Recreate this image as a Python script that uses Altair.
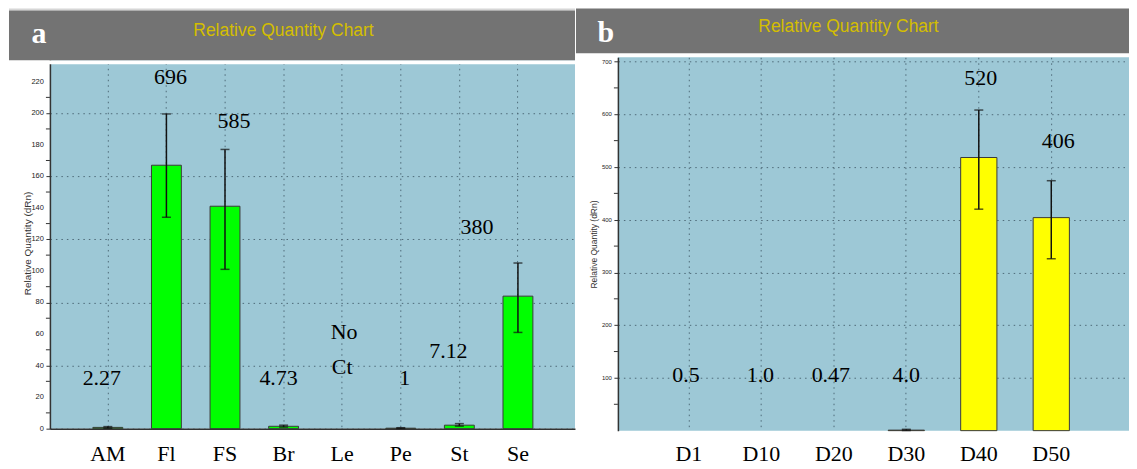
import altair as alt
import pandas as pd

# ---------------- data ----------------
cats_a = ["AM", "Fl", "FS", "Br", "Le", "Pe", "St", "Se"]
vals_a = [0.8, 167, 141, 1.5, None, 0.3, 2.2, 84]
lo_a = [0.3, 134, 101, 1.0, None, 0.1, 1.6, 61]
hi_a = [1.3, 199.5, 177, 2.2, None, 0.6, 3.2, 105]

lab_text_a = ["2.27", "696", "585", "4.73", "No", "Ct", "1", "7.12", "380"]
lab_cat_a = ["AM", "Fl", "FS", "Br", "Le", "Le", "Pe", "St", "Se"]
lab_y_a = [32, 223, 195, 32, 61, 39, 32, 49, 128]
lab_dx_a = [-6, 4, 9, -5, 2, 0, 4, -11, -41]

ymajor_a = [0, 20, 40, 60, 80, 100, 120, 140, 160, 180, 200, 220]
yminor_a = [10, 30, 50, 70, 90, 110, 130, 150, 170, 190, 210]

cats_b = ["D1", "D10", "D20", "D30", "D40", "D50"]
vals_b = [None, None, None, 1.0, 518, 404]
lo_b = [None, None, None, 0.3, 420, 326]
hi_b = [None, None, None, 2.5, 608, 474]

lab_text_b = ["0.5", "1.0", "0.47", "4.0", "520", "406"]
lab_cat_b = ["D1", "D10", "D20", "D30", "D40", "D50"]
lab_y_b = [106, 106, 106, 106, 668, 549]
lab_dx_b = [-3, -1, -3, 0, 2, 7]

ymajor_b = [100, 200, 300, 400, 500, 600, 700]
yminor_b = [50, 150, 250, 350, 450, 550, 650]

TITLE = "Relative Quantity Chart"
YTITLE = "Relative Quantity (dRn)"

GRID = "#4e6a78"
BG = "#9dc8d6"
HEAD = "#737373"
HEADTXT = "#d4be00"
one = pd.DataFrame({"k": [0]})


def panel(cats, vals, lo, hi, labs, lcats, lys, ldxs, ymajor, yminor, letter, color,
          width, height, ymax, ytick_font, ytitle_font, ytitle_pad, xlab_pad,
          head_x, head_y1, head_y2, top_line, cover, letter_x, letter_y,
          title_x, title_y, scale_kw, xdomain):
    df = pd.DataFrame({"cat": cats, "val": vals, "lo": lo, "hi": hi})
    xs = alt.Scale(domain=cats, **scale_kw)
    x_axis = alt.Axis(title=None, labelFont="Liberation Serif", labelFontSize=22,
                      labelColor="black", labelAngle=0, ticks=False, grid=True,
                      gridDash=[1.5, 4], gridColor=GRID, gridWidth=1,
                      domain=xdomain, domainColor="#333333", domainWidth=1.5,
                      labelPadding=xlab_pad, bandPosition=0.5, zindex=0)
    y_axis = alt.Axis(values=ymajor, labels=False,
                      gridDash=[1.5, 4], gridColor=GRID, gridWidth=1,
                      tickColor="#333333", tickSize=4, domainColor="#333333", domainWidth=1.5,
                      title=YTITLE, titleFont="Liberation Sans",
                      titleFontSize=ytitle_font, titleFontWeight="normal", titleColor="#333333",
                      titlePadding=ytitle_pad, zindex=0)
    ys = alt.Scale(domain=[0, ymax], nice=False)
    base = alt.Chart(df)
    xe = alt.X("cat:N", sort=cats, scale=xs)
    bars = base.mark_bar(color=color, stroke="#3a3a3a", strokeWidth=1).encode(
        x=alt.X("cat:N", sort=cats, scale=xs, axis=x_axis),
        y=alt.Y("val:Q", scale=ys, axis=y_axis))
    err = base.mark_rule(color="#111111", strokeWidth=1.5).encode(
        x=xe, y=alt.Y("lo:Q", scale=ys), y2="hi:Q")
    cap_lo = base.mark_tick(color="#111111", thickness=1.5, size=9).encode(
        x=xe, y=alt.Y("lo:Q", scale=ys))
    cap_hi = base.mark_tick(color="#111111", thickness=1.5, size=9).encode(
        x=xe, y=alt.Y("hi:Q", scale=ys))
    minor = alt.Chart(pd.DataFrame({"m": yminor})).mark_rule(color="#333333", strokeWidth=1).encode(
        y=alt.Y("m:Q", scale=ys), x=alt.value(-4), x2=alt.value(0))
    ticklabels = alt.Chart(pd.DataFrame({"v": ymajor, "s": [str(v) for v in ymajor]})).mark_text(
        font="Liberation Sans", fontSize=ytick_font, color="#222222", align="right",
        baseline="middle").encode(y=alt.Y("v:Q", scale=ys), x=alt.value(-6), text="s:N")
    layers = [bars, err, cap_lo, cap_hi, minor, ticklabels]
    for t, c, yv, dx in zip(labs, lcats, lys, ldxs):
        ldf = pd.DataFrame({"cat": [c], "ly": [yv], "t": [t]})
        layers.append(alt.Chart(ldf).mark_text(font="Liberation Serif", fontSize=22,
                                               color="black", dx=dx, baseline="middle").encode(
            x=xe, y=alt.Y("ly:Q", scale=ys), text="t:N"))
    # header decorations
    hdr = []
    if top_line is not None:
        hdr.append(alt.Chart(one).mark_rule(color="#d6d6d6", strokeWidth=2).encode(
            x=alt.value(head_x), x2=alt.value(width), y=alt.value(top_line)))
    if cover is not None:
        hdr.append(alt.Chart(one).mark_rect(color="white").encode(
            x=alt.value(-3), x2=alt.value(width), y=alt.value(cover[0]), y2=alt.value(cover[1])))
    hdr.append(alt.Chart(one).mark_rect(color=HEAD).encode(
        x=alt.value(head_x), x2=alt.value(width), y=alt.value(head_y1), y2=alt.value(head_y2)))
    hdr.append(alt.Chart(one).mark_text(text=letter, font="Liberation Serif", fontSize=30,
                                        fontWeight="bold", color="white", align="center",
                                        baseline="alphabetic").encode(
        x=alt.value(letter_x), y=alt.value(letter_y)))
    hdr.append(alt.Chart(one).mark_text(text=TITLE, font="Liberation Sans", fontSize=17.5,
                                        color=HEADTXT, align="center", baseline="middle").encode(
        x=alt.value(title_x), y=alt.value(title_y)))
    return alt.layer(*layers, *hdr).properties(width=width, height=height)


pa = panel(cats_a, vals_a, lo_a, hi_a, lab_text_a, lab_cat_a, lab_y_a, lab_dx_a,
           ymajor_a, yminor_a, "a", "#00ff00",
           526, 372, 235.4, 7.5, 10, 13, 15,
           -41, -47, 3, -48, (3, 7), -11, -14, 234, -26,
           dict(paddingInner=0.49, paddingOuter=0.726, align=0.505), True)

pb = panel(cats_b, vals_b, lo_b, hi_b, lab_text_b, lab_cat_b, lab_y_b, lab_dx_b,
           ymajor_b, yminor_b, "b", "#ffff00",
           512, 374, 708, 6, 8.5, 15, 13,
           -42, -49, -4, None, None, -12, -15, 231, -30,
           dict(paddingInner=0.5, paddingOuter=0.776, align=0.47), False)

chart = alt.hconcat(pa, pb, spacing=0).properties(
    padding={"left": 0, "top": 0, "right": 0, "bottom": 0}
).configure_view(fill=BG, stroke=None)

chart.save("out.html", embed_options={"renderer": "svg", "actions": False})
